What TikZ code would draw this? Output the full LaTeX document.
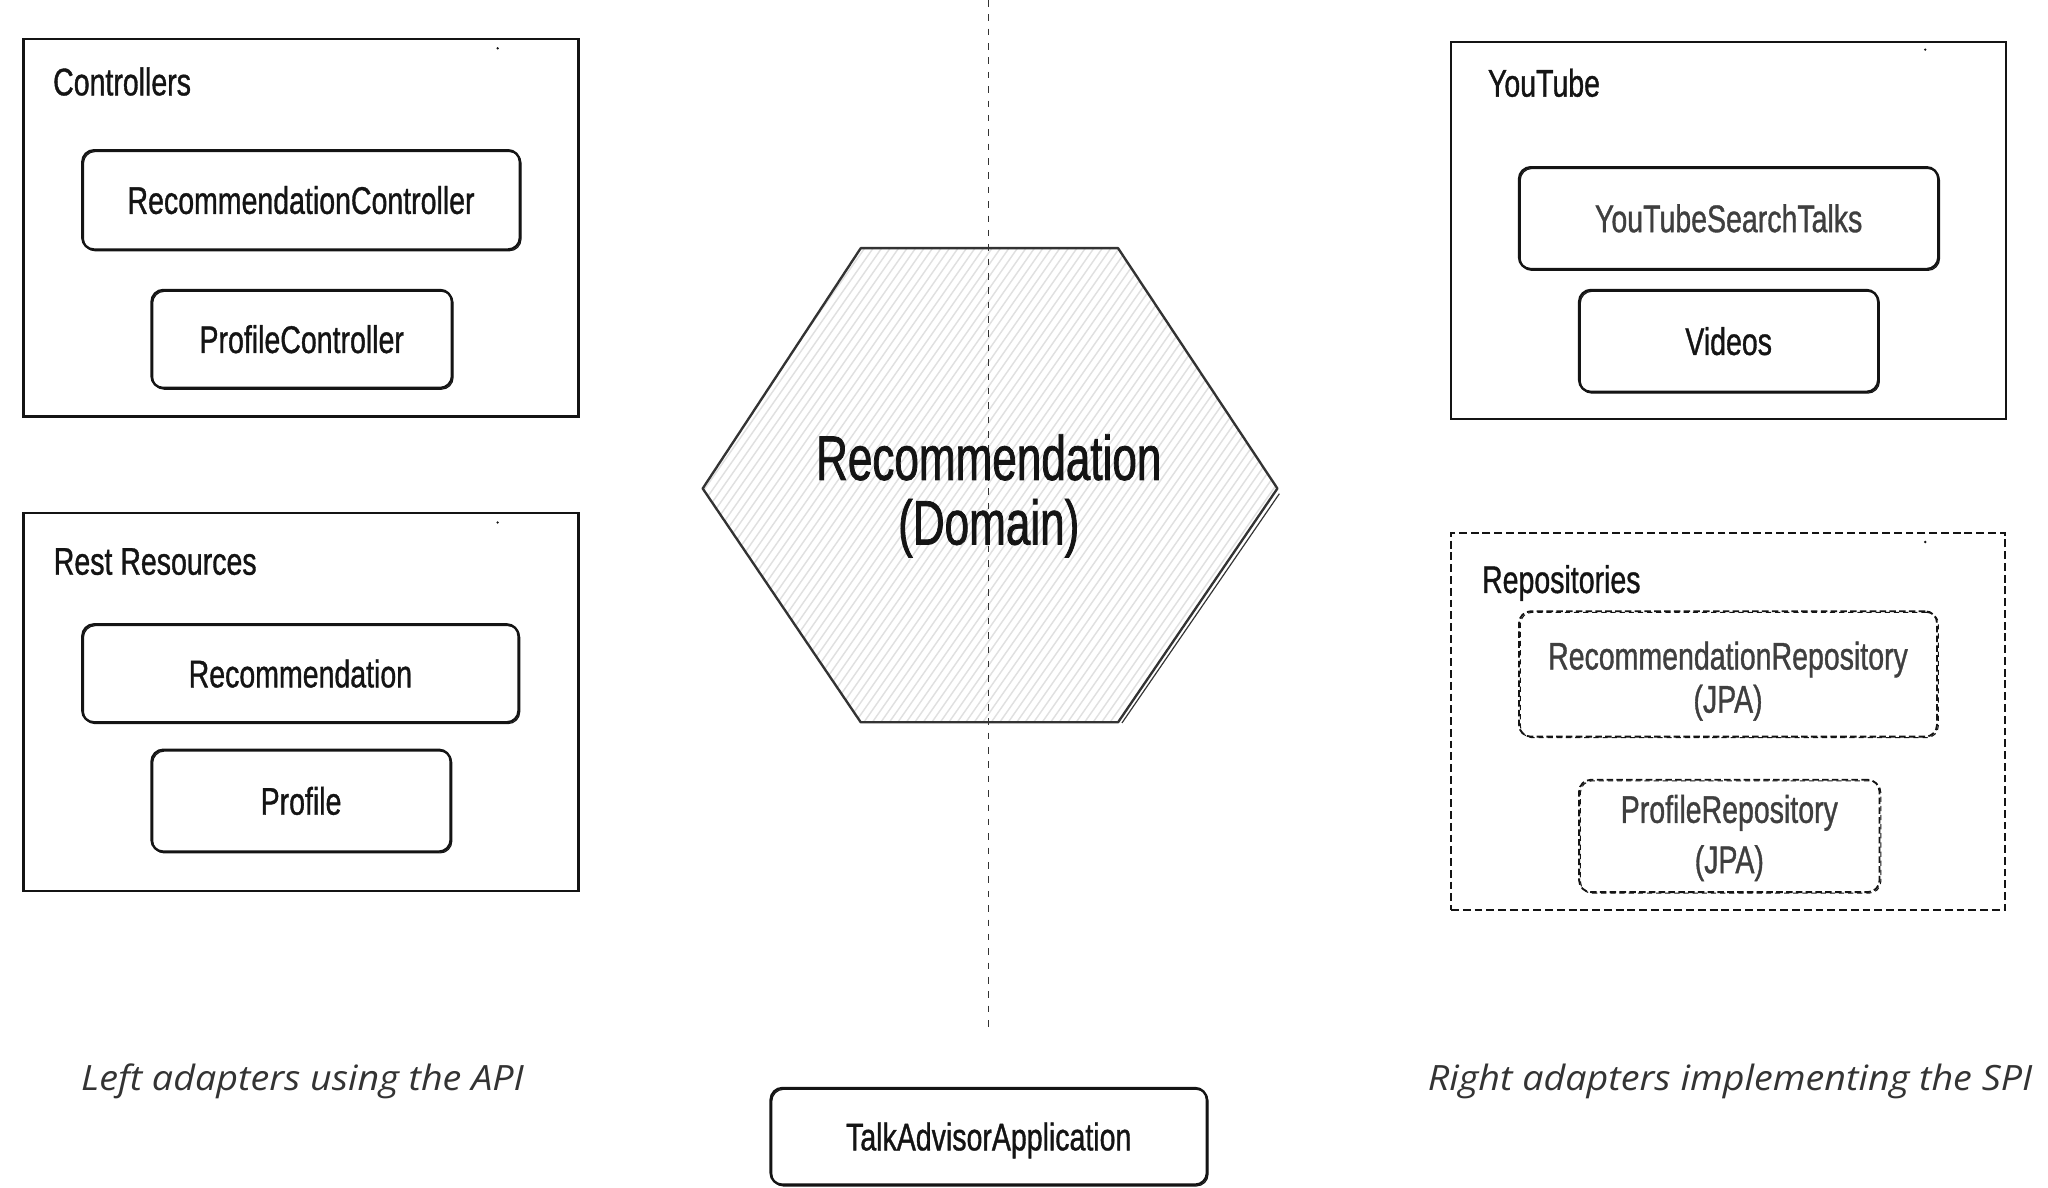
\documentclass[tikz,border=0pt]{standalone}
\usepackage{fontspec}
\newfontfamily\osw{Liberation Sans}[FakeStretch=0.74,FakeBold=0.9]
\newfontfamily\oswh{Liberation Sans}[FakeStretch=0.70,FakeBold=1.2]
\newfontfamily\capf{Open Sans}[FakeStretch=1.08]
\definecolor{ink}{HTML}{141414}
\definecolor{softink}{HTML}{3F3F3F}
\definecolor{hexink}{HTML}{333333}
\definecolor{hach}{HTML}{E0E0E0}
\definecolor{capink}{HTML}{333333}
\tikzset{
  boxsize/.style 2 args={minimum width=#1pt, minimum height=#2pt},
  boxfont/.style={font=\osw\fontsize{29.5}{33}\selectfont},
  outerbox/.style={draw=ink, line width=1.8pt, inner sep=0pt},
  dashouter/.style={draw=ink, line width=1.5pt, inner sep=0pt, dash pattern=on 6pt off 3pt},
  compbase/.style={draw=ink, line width=1.8pt, rounded corners=9pt, inner sep=0pt, boxfont, text=ink,
     text height=21.5pt, text depth=0pt},
  compbox/.style={compbase,
     postaction={draw=ink, line width=0.9pt, rounded corners=9pt, transform canvas={shift={(0.9pt,-1pt)}}}},
  dcompbox/.style={compbase, line width=1.4pt, dash pattern=on 5pt off 2.5pt,
     postaction={draw=ink, line width=0.8pt, rounded corners=9pt, dash pattern=on 4pt off 3pt, transform canvas={shift={(1pt,-0.8pt)}}}},
  grplabel/.style={anchor=base west, inner sep=0pt, boxfont, text=ink},
  plaintext/.style={inner sep=0pt, boxfont, align=center},
  caption/.style={anchor=base west, inner sep=0pt, text=capink, font=\capf\itshape\fontsize{26.7}{30}\selectfont},
  hexline/.style={draw=hexink, line width=1.8pt, line join=round},
  axis/.style={draw=hexink, line width=1pt, dash pattern=on 5pt off 6pt},
  speck/.style={fill=ink, inner sep=0pt, minimum size=2pt, circle}
}
\begin{document}
\begin{tikzpicture}[x=1pt,y=-1pt]
\useasboundingbox (0,0) rectangle (1568,909);

% ---------- Left: Controllers ----------
\node[outerbox, boxsize={425}{289}] (ctrl) at (230.5,174.5) {};
\node[grplabel] (ctrlL) at (40.5,73) {Controllers};
\node[speck] (ctrlS) at (381,37) {};
\node[compbox, boxsize={335}{76}] (rc) at (230.5,153) {RecommendationController};
\node[compbox, boxsize={230}{75}] (pc) at (231,259.5) {ProfileController};

% ---------- Left: Rest Resources ----------
\node[outerbox, boxsize={425}{289}] (rest) at (230.5,537.5) {};
\node[grplabel] (restL) at (41,440) {Rest Resources};
\node[speck] (restS) at (381,400) {};
\node[compbox, boxsize={334}{75}] (rr) at (230,515.5) {Recommendation};
\node[compbox, boxsize={229}{78}] (pr) at (230.5,613) {Profile};

% ---------- Right: YouTube ----------
\node[outerbox, boxsize={425}{289}] (yt) at (1323.5,176.5) {};
\node[grplabel] (ytL) at (1139,74) {YouTube};
\node[speck] (ytS) at (1474,38) {};
\node[compbox, boxsize={321}{78}, text=softink] (yst) at (1323.5,167) {YouTubeSearchTalks};
\node[compbox, boxsize={229}{78}] (vid) at (1323.5,261) {Videos};

% ---------- Right: Repositories ----------
\node[dashouter, boxsize={424}{289}] (repo) at (1323,552.5) {};
\node[grplabel] (repoL) at (1134.5,454) {Repositories};
\node[speck] (repoS) at (1474,415) {};
\node[dcompbox, boxsize={320}{96}] (rrepo) at (1323,516) {};
\node[plaintext, text=softink] (rrepoT) at (1323,521.5) {RecommendationRepository\\(JPA)};
\node[dcompbox, boxsize={230}{86}] (prepo) at (1324,640) {};
\node[plaintext, text=softink] (prepoT) at (1324,641.6) {ProfileRepository\\[5.5pt](JPA)};

% ---------- Domain hexagon ----------
\coordinate (hL) at (538,374);
\coordinate (hTL) at (659,190);
\coordinate (hTR) at (856,190);
\coordinate (hR) at (978,374);
\coordinate (hBR) at (856,553);
\coordinate (hBL) at (659,553);
\fill[white] (hL) -- (hTL) -- (hTR) -- (hR) -- (hBR) -- (hBL) -- cycle;
\begin{scope}
  \clip (hL) -- (hTL) -- (hTR) -- (hR) -- (hBR) -- (hBL) -- cycle;
  \foreach \s in {260,266.5,...,1000} {
    \draw[hach, line width=1.1pt] (\s,560) -- ++(259,-370);
  }
\end{scope}

% ---------- Axis (dashed vertical line) ----------
\coordinate (axTop) at (757,0);
\coordinate (axBot) at (757,786);
\draw[axis] (axTop) -- (axBot);

\draw[hexline] (hL) -- (hTL) -- (hTR) -- (hR) -- (hBR) -- (hBL) -- cycle;
\draw[draw=hexink, line width=0.9pt] (979.5,378) -- (859,553.5);
\node[inner sep=0pt, align=center, text=ink, font=\oswh\fontsize{48.2}{49.5}\selectfont] (dom) at (757,379.7) {Recommendation\\(Domain)};

% ---------- Bottom ----------
\node[caption] (capL) at (62,835) {Left adapters using the API};
\node[caption] (capR) at (1093,835) {Right adapters implementing the SPI};
\node[compbox, boxsize={334}{74}] (talk) at (757,870) {TalkAdvisorApplication};
\end{tikzpicture}
\end{document}
